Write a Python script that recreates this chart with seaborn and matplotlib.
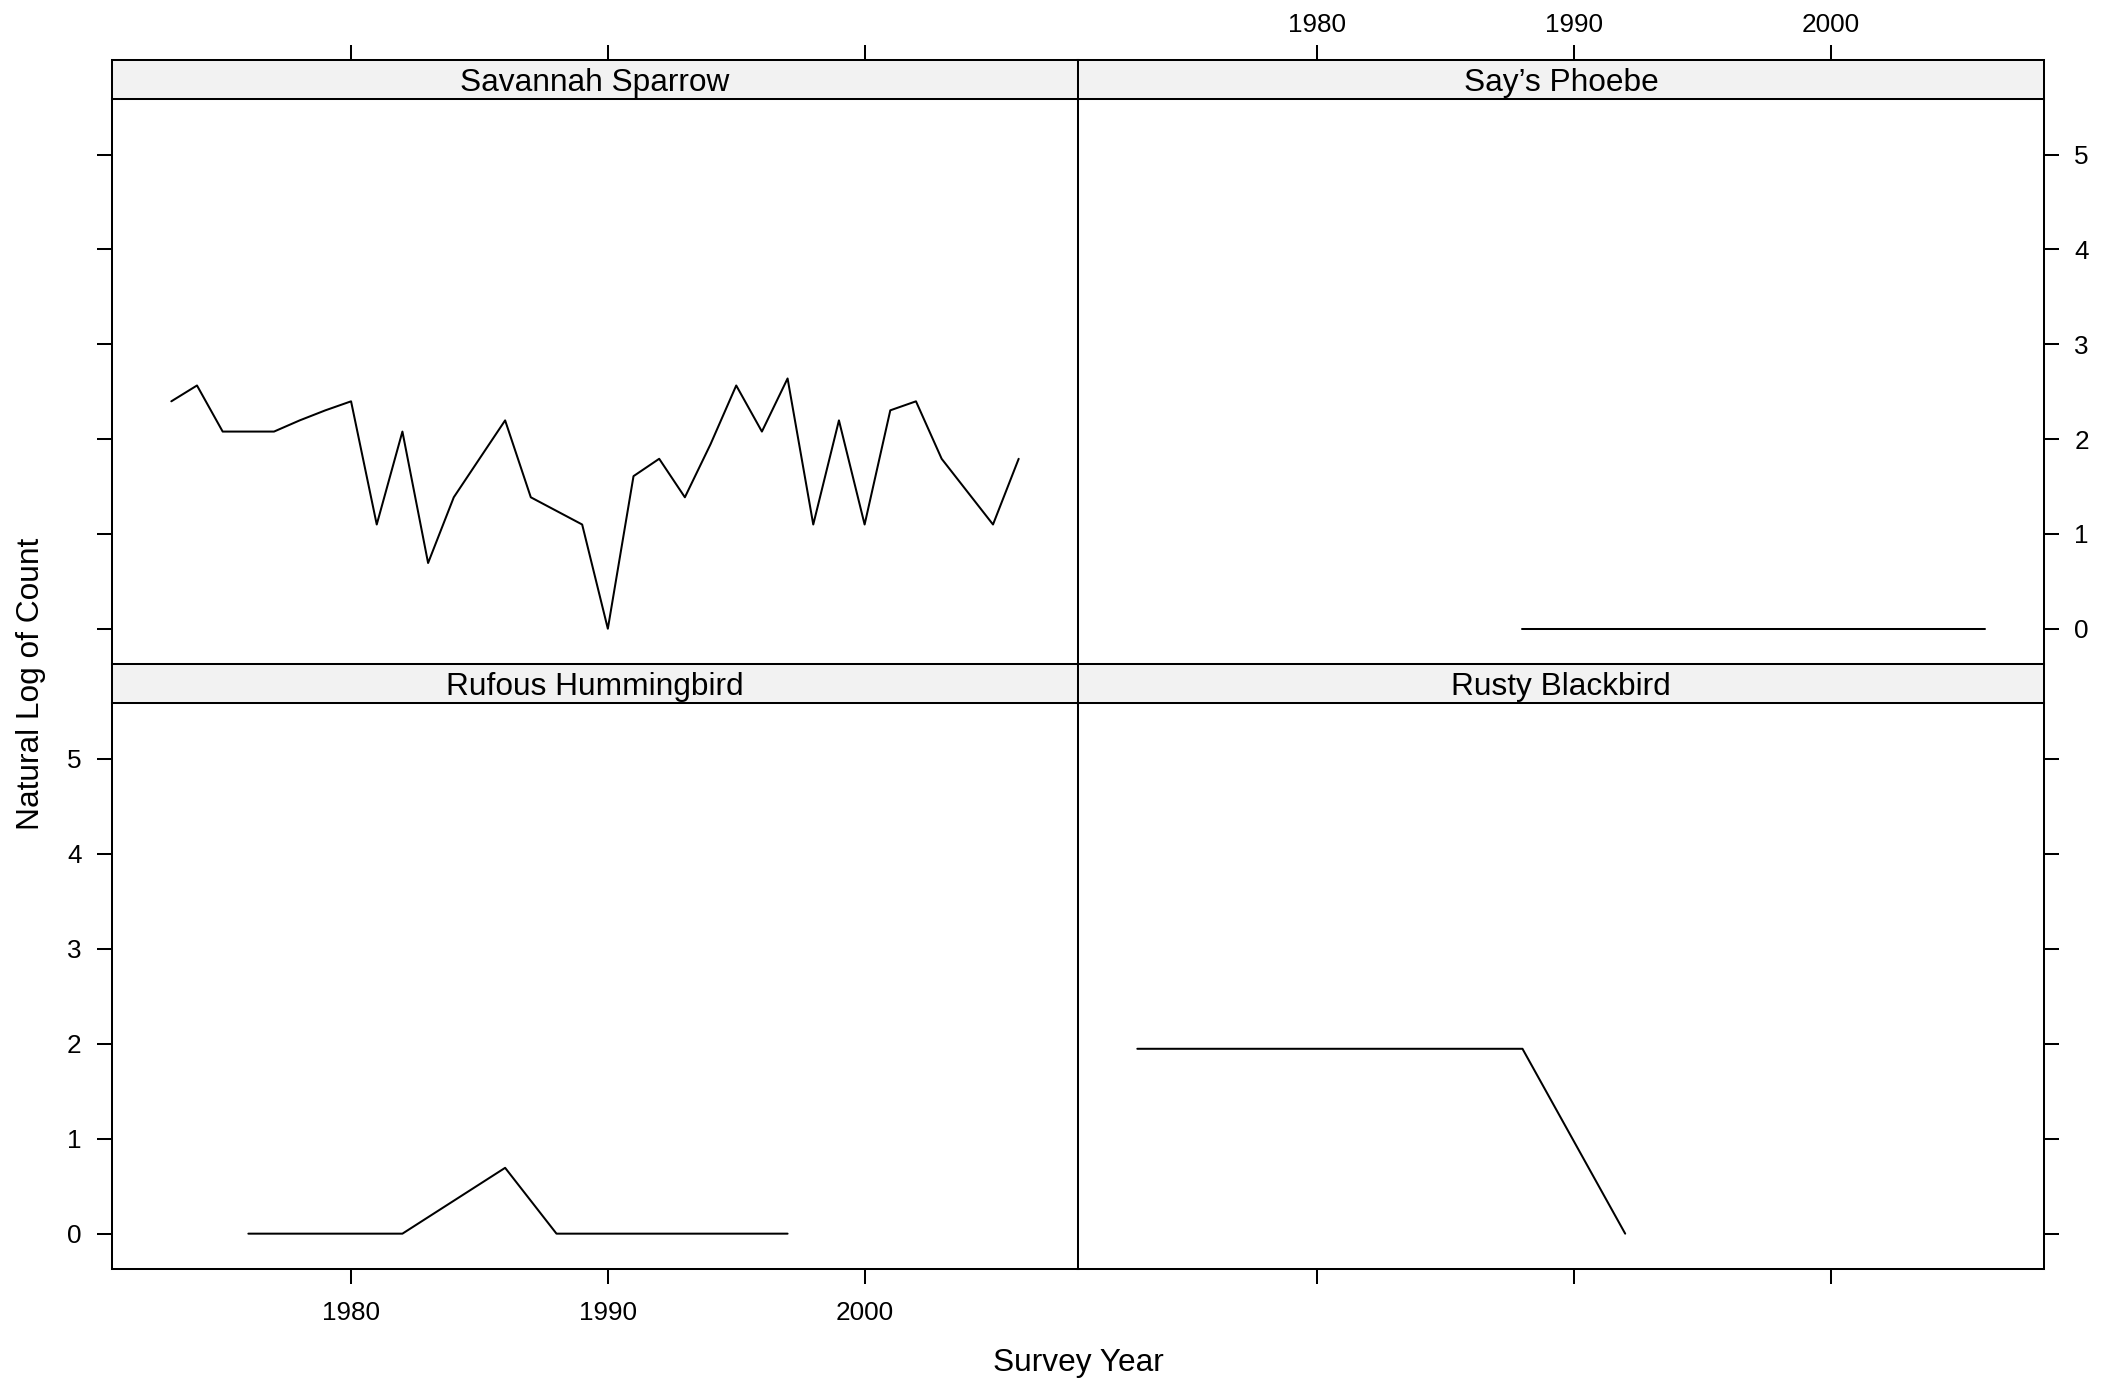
import matplotlib
matplotlib.use('Agg')
import matplotlib.pyplot as plt
import seaborn as sns
import pandas as pd

sns.set_style('ticks')
plt.rcParams['font.family'] = ['Liberation Sans', 'DejaVu Sans']

# ---- data (natural log of count) ----
species = ["Savannah Sparrow", "Say\u2019s Phoebe", "Rufous Hummingbird", "Rusty Blackbird"]

sav_years = [1973, 1974, 1975, 1976, 1977, 1978, 1979, 1980, 1981, 1982, 1983, 1984,
             1985, 1986, 1987, 1989, 1990, 1991, 1992, 1993, 1994, 1995, 1996, 1997,
             1998, 1999, 2000, 2001, 2002, 2003, 2005, 2006]
sav_logcount = [2.398, 2.565, 2.079, 2.079, 2.079, 2.197, 2.303, 2.398, 1.099, 2.079,
                0.693, 1.386, 1.792, 2.197, 1.386, 1.099, 0.000, 1.609, 1.792, 1.386,
                1.946, 2.565, 2.079, 2.639, 1.099, 2.197, 1.099, 2.303, 2.398, 1.792,
                1.099, 1.792]

say_years = [1988, 2006]
say_logcount = [0.0, 0.0]

ruf_years = [1976, 1982, 1986, 1988, 1997]
ruf_logcount = [0.0, 0.0, 0.693, 0.0, 0.0]

rus_years = [1973, 1988, 1992]
rus_logcount = [1.946, 1.946, 0.0]

x_ticks = [1980, 1990, 2000]
y_ticks = [0, 1, 2, 3, 4, 5]
x_label = "Survey Year"
y_label = "Natural Log of Count"

frames = []
for name, yrs, vals in [(species[0], sav_years, sav_logcount),
                        (species[1], say_years, say_logcount),
                        (species[2], ruf_years, ruf_logcount),
                        (species[3], rus_years, rus_logcount)]:
    frames.append(pd.DataFrame({"species": name, "year": yrs, "logcount": vals}))
df = pd.concat(frames, ignore_index=True)

# ---- layout (pixel geometry of the lattice-like grid) ----
W, H = 2114, 1380
fig = plt.figure(figsize=(W / 100, H / 100), dpi=100)
fig.patch.set_facecolor('white')

L, M, R = 112, 1078, 2044
rows = [(60, 99, 664), (664, 703, 1269)]  # strip top, data top, data bottom
xlim = (1970.69, 2008.31)
ylim = (-0.372, 5.586)

LW = 1.45
TICK_LEN = 10.8
TICK_FS = 18.8
LAB_FS = 22.8
STRIP_COLOR = '#f2f2f2'


def fx(px):
    return px / W


def fy(py):
    return 1 - py / H


positions = [(0, 0), (0, 1), (1, 0), (1, 1)]
for idx, (r, c) in enumerate(positions):
    name = species[idx]
    s_top, d_top, d_bot = rows[r]
    x0, x1 = (L, M) if c == 0 else (M, R)

    ax = fig.add_axes([fx(x0), fy(d_bot), (x1 - x0) / W, (d_bot - d_top) / H])
    sax = fig.add_axes([fx(x0), fy(d_top), (x1 - x0) / W, (d_top - s_top) / H])

    sub = df[df["species"] == name]
    sns.lineplot(data=sub, x="year", y="logcount", ax=ax, color='black',
                 linewidth=LW, estimator=None, sort=True, legend=False)

    ax.set_xlim(*xlim)
    ax.set_ylim(*ylim)
    sax.set_xlim(*xlim)
    sax.set_ylim(0, 1)
    ax.set_xlabel("")
    ax.set_ylabel("")
    ax.set_xticks(x_ticks)
    ax.set_yticks(y_ticks)
    sax.set_xticks(x_ticks)
    sax.set_yticks([])
    sax.set_facecolor(STRIP_COLOR)
    sax.text(0.5, 0.40, name, transform=sax.transAxes, ha='center', va='center',
             fontsize=LAB_FS, color='black')

    for a in (ax, sax):
        for sp in a.spines.values():
            sp.set_visible(True)
            sp.set_color('black')
            sp.set_linewidth(LW)
        a.tick_params(direction='out', length=TICK_LEN, width=LW, colors='black',
                      labelsize=TICK_FS, pad=11)

    # default: no ticks anywhere
    ax.tick_params(axis='x', which='both', bottom=False, top=False,
                   labelbottom=False, labeltop=False)
    ax.tick_params(axis='y', which='both', left=False, right=False,
                   labelleft=False, labelright=False)
    sax.tick_params(axis='x', which='both', bottom=False, top=False,
                    labelbottom=False, labeltop=False)

    if r == 0:
        sax.tick_params(axis='x', top=True, labeltop=(c == 1), pad=6)
    else:
        ax.tick_params(axis='x', bottom=True, labelbottom=(c == 0), pad=12)
    if c == 0:
        ax.tick_params(axis='y', left=True, labelleft=(r == 1))
    else:
        ax.tick_params(axis='y', right=True, labelright=(r == 0))

fig.text(fx(31), fy(684), y_label, rotation=90, ha='center', va='center',
         fontsize=LAB_FS, color='black')
fig.text(fx(1078), fy(1363), x_label, ha='center', va='center',
         fontsize=LAB_FS, color='black')

fig.savefig('out.png', dpi=100, facecolor='white')
